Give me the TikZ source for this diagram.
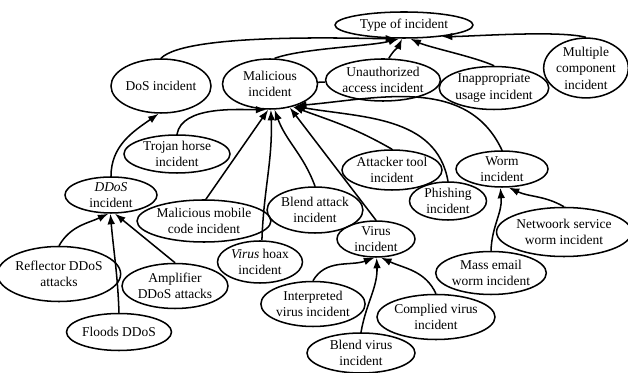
\documentclass[tikz,border=0pt]{standalone}
\usepackage{fontspec}
\setmainfont{Liberation Serif}
\usetikzlibrary{shapes.geometric,arrows.meta}
\begin{document}
\begin{tikzpicture}[>={Latex[length=9pt,width=6.5pt]},
    every edge/.style={draw,line width=1.3pt},
    incident/.style={ellipse,draw,line width=1.3pt,inner sep=0pt,align=center,
      font=\fontsize{11.5}{14}\selectfont}]
    \def\x{0.03}
    \def\y{-0.03}
    \useasboundingbox (0,0) rectangle (628*\x, 373*\y);
    \node [incident,minimum width=4.14cm,minimum height=0.78cm] (A0_0) at (404*\x, 25*\y) {Type of incident};
    \node [incident,minimum width=2.61cm,minimum height=1.62cm] (A1_0) at (161*\x, 86*\y) {DoS incident};
    \node [incident,minimum width=2.85cm,minimum height=1.5cm] (A1_1) at (270*\x, 84*\y) {Malicious\\incident};
    \node [incident,minimum width=3.39cm,minimum height=1.26cm] (A1_2) at (383*\x, 80*\y) {Unauthorized\\access incident};
    \node [incident,minimum width=2.94cm,minimum height=1.29cm] (A1_3) at (494*\x, 88*\y) {Inappropriate\\usage incident};
    \node [incident,minimum width=2.34cm,minimum height=1.71cm] (A1_4) at (586*\x, 68*\y) {Multiple\\component\\incident};
    \node [incident,minimum width=3.18cm,minimum height=1.14cm] (A2_0) at (177*\x, 154*\y) {Trojan horse\\incident};
    \node [incident,minimum width=2.85cm,minimum height=1.2cm] (A2_1) at (392*\x, 170*\y) {Attacker tool\\incident};
    \node [incident,minimum width=2.76cm,minimum height=1.08cm] (A2_2) at (502*\x, 169*\y) {Worm\\incident};
    \node [incident,minimum width=2.76cm,minimum height=1.08cm] (A3_0) at (111*\x, 195*\y) {\textit{DDoS}\\incident};
    \node [incident,minimum width=3.45cm,minimum height=1.26cm] (A3_1) at (204*\x, 221*\y) {Malicious mobile\\code incident};
    \node [incident,minimum width=2.7cm,minimum height=1.38cm] (A3_2) at (315*\x, 210*\y) {Blend attack\\incident};
    \node [incident,minimum width=2.31cm,minimum height=1.14cm] (A3_3) at (448*\x, 201*\y) {Phishing\\incident};
    \node [incident,minimum width=2.34cm,minimum height=1.05cm] (A3_4) at (376*\x, 239*\y) {Virus\\incident};
    \node [incident,minimum width=3.84cm,minimum height=1.47cm] (A3_5) at (564*\x, 232*\y) {Netwoork service\\worm incident};
    \node [incident,minimum width=3.24cm,minimum height=1.65cm] (A4_0) at (59*\x, 274*\y) {Reflector DDoS\\attacks};
    \node [incident,minimum width=3.18cm,minimum height=1.35cm] (A4_1) at (175*\x, 286*\y) {Amplifier\\DDoS attacks};
    \node [incident,minimum width=2.55cm,minimum height=1.26cm] (A4_2) at (260*\x, 262*\y) {\textit{Virus} hoax\\incident};
    \node [incident,minimum width=3.24cm,minimum height=1.29cm] (A4_3) at (491*\x, 273*\y) {Mass email\\worm incident};
    \node [incident,minimum width=3.09cm,minimum height=1.35cm] (A4_4) at (313*\x, 304*\y) {Interpreted\\virus incident};
    \node [incident,minimum width=3.39cm,minimum height=1.35cm] (A4_5) at (436*\x, 317*\y) {Complied virus\\incident};
    \node [incident,minimum width=3.15cm,minimum height=1.11cm] (A5_0) at (119*\x, 332*\y) {Floods DDoS};
    \node [incident,minimum width=3.24cm,minimum height=1.2cm] (A5_1) at (361*\x, 353*\y) {Blend virus\\incident};
    % into Type of incident
    \path (A1_0.north) edge [->,out=45,in=180,looseness=0.4] (A0_0.240);
    \path (A1_1.80) edge [->,out=20,in=195,looseness=0.6] (A0_0.250);
    \path (A1_2.75) edge [->,out=60,in=245] (A0_0.262);
    \path (A1_3.north) edge [->,out=155,in=-25,looseness=0.6] (A0_0.295);
    \path (A1_4.north) edge [->,out=165,in=0,looseness=0.5] (A0_0.343);
    \path (A1_1) edge (A1_2);
    % into Malicious incident
    \path (A2_0.north) edge [->,out=80,in=180,looseness=0.8] (A1_1.262);
    \path (A3_1.85) edge [->] (A1_1.266);
    \path (A4_2.85) edge [->,out=88,in=-88] (A1_1.272);
    \path (A3_2.north) edge [->,out=110,in=-70] (A1_1.280);
    \path (A3_4.north) edge [->] (A1_1.310);
    \path (A2_1.north) edge [->,out=150,in=-20] (A1_1.315);
    \path (A3_3.north) edge [->,out=100,in=-10] (A1_1.318);
    \path (A2_2.north) edge [->,out=115,in=5] (A1_1.320);
    % into DoS and DDoS
    \path (A3_0.north) edge [->,out=90,in=215] (A1_0.265);
    \path (A4_0.north) edge [->,out=60,in=205] (A3_0.262);
    \path (A5_0.north) edge [->,out=92,in=-85] (A3_0.268);
    \path (A4_1.north) edge [->] (A3_0.282);
    % into Virus and Worm
    \path (A4_4.north) edge [->,out=60,in=200] (A3_4.265);
    \path (A5_1.north) edge [->,out=80,in=-88] (A3_4.272);
    \path (A4_5.north) edge [->,out=115,in=-25] (A3_4.285);
    \path (A4_3.north) edge [->,out=88,in=-85] (A2_2.265);
    \path (A3_5.north) edge [->,out=150,in=-25] (A2_2.290);
\end{tikzpicture}
\end{document}
